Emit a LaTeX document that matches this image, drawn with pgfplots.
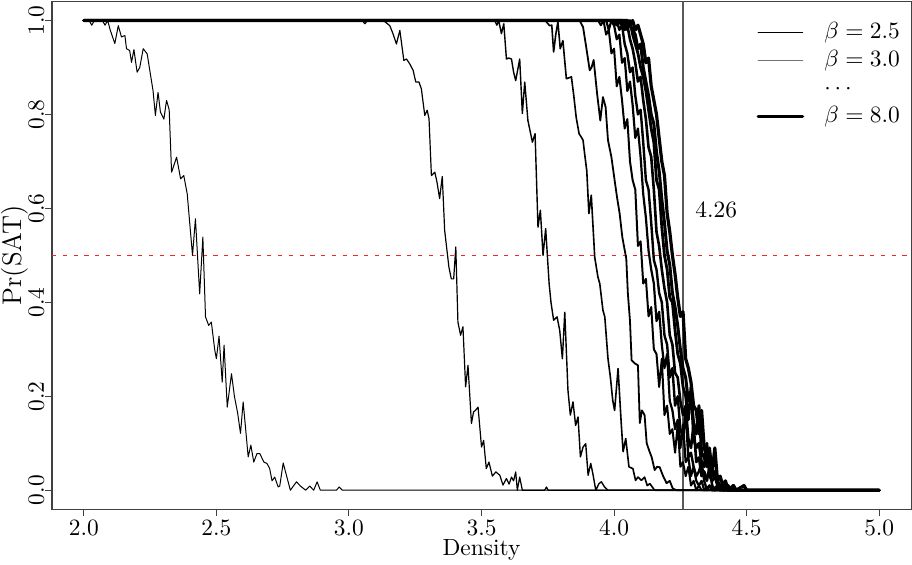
\documentclass[border=0pt]{standalone}
\usepackage{pgfplots}
\pgfplotsset{compat=1.18}
\begin{document}
\begin{tikzpicture}
\begin{axis}[
  scale only axis,
  width=367.1pt, height=216.8pt,
  at={(0,0)}, anchor=south west,
  xmin=1.88, xmax=5.12, ymin=-0.04, ymax=1.04,
  xtick={2,2.5,3,3.5,4,4.5,5},
  xticklabels={2.0,2.5,3.0,3.5,4.0,4.5,5.0},
  ytick={0,0.2,0.4,0.6,0.8,1},
  yticklabels={0.0,0.2,0.4,0.6,0.8,1.0},
  xtick pos=bottom, ytick pos=left,
  tick align=outside, major tick length=3pt,
  tick style={black!75, line width=0.45pt},
  axis line style={black!75, line width=0.45pt},
  xticklabel style={inner sep=1.5pt},
  yticklabel style={rotate=90, anchor=south, inner sep=0pt},
  xlabel={Density},
  ylabel={\fontsize{11.5}{13}\selectfont Pr(SAT)},
  xlabel style={at={(axis description cs:0.5,0)}, anchor=center, yshift=-17.5pt},
  ylabel style={at={(axis description cs:0,0.5)}, anchor=center, yshift=16pt},
  legend cell align=left,
  legend style={draw=none, fill=none, inner sep=0pt, column sep=4.3pt,
    at={(axis description cs:0.8197,0.968)}, anchor=north west,
    nodes={text height=7pt, text depth=2pt, inner ysep=1.5pt, inner xsep=4.25pt}},
  legend image code/.code={\draw[#1] (0pt,0pt) -- (19pt,0pt);},
  clip=true
]

% reference lines
\addplot[color={rgb,255:red,240;green,40;blue,30}, line width=0.7pt, line cap=butt,
  dash pattern=on 1.8pt off 2.8pt, forget plot]
  coordinates {(1.88,0.5) (5.12,0.5)};
\addplot[black!65, line width=0.45pt, forget plot]
  coordinates {(4.26,-0.04) (4.26,1.04)};

\pgfplotsset{every axis plot/.append style={line join=round, line cap=round}}

% beta = 2.5
\addplot[black, line width=0.427pt, forget plot] coordinates {
(2.00,1)(2.02,1)(2.03,0.99)(2.04,1)(2.07,1)(2.08,0.99)(2.09,1)(2.10,0.979)
(2.117,0.951)(2.13,0.989)(2.142,0.965)(2.155,0.968)(2.161,0.94)(2.173,0.936)
(2.18,0.911)(2.189,0.938)(2.201,0.89)(2.211,0.9)(2.224,0.94)(2.239,0.929)
(2.255,0.872)(2.261,0.851)(2.27,0.798)(2.28,0.847)(2.289,0.805)(2.302,0.79)
(2.312,0.83)(2.322,0.81)(2.331,0.677)(2.35,0.709)(2.365,0.663)(2.377,0.67)
(2.39,0.631)(2.41,0.50)(2.421,0.578)(2.437,0.418)(2.449,0.539)(2.459,0.369)
(2.471,0.351)(2.481,0.358)(2.494,0.298)(2.50,0.28)(2.51,0.328)(2.522,0.23)
(2.529,0.309)(2.541,0.177)(2.557,0.248)(2.568,0.2)(2.58,0.165)(2.591,0.121)
(2.601,0.188)(2.62,0.071)(2.63,0.096)(2.641,0.06)(2.653,0.078)(2.664,0.078)
(2.679,0.06)(2.691,0.057)(2.701,0.046)(2.71,0.02)(2.72,0.028)(2.733,0.007)
(2.739,0.009)(2.752,0.058)(2.779,0)(2.802,0.018)(2.817,0.009)(2.837,0)
(2.852,0.009)(2.867,0)(2.88,0.018)(2.892,0)(2.953,0)(2.963,0.007)(2.975,0)
(5.00,0)};

% beta = 3.0
\addplot[black, line width=0.513pt, forget plot] coordinates {
(2.00,1)(3.05,1)(3.06,0.993)(3.07,1)(3.13,1)(3.154,0.989)(3.166,0.972)
(3.179,0.95)(3.192,0.979)(3.207,0.915)(3.217,0.918)(3.229,0.908)(3.242,0.894)
(3.252,0.869)(3.264,0.869)(3.273,0.855)(3.286,0.798)(3.295,0.809)(3.302,0.791)
(3.311,0.67)(3.324,0.677)(3.332,0.656)(3.342,0.621)(3.352,0.668)(3.361,0.553)
(3.377,0.475)(3.386,0.45)(3.395,0.45)(3.403,0.518)(3.411,0.358)(3.421,0.33)
(3.43,0.348)(3.44,0.22)(3.449,0.266)(3.462,0.142)(3.47,0.167)(3.477,0.17)
(3.487,0.177)(3.50,0.092)(3.508,0.106)(3.518,0.046)(3.528,0.06)(3.541,0.03)
(3.554,0.039)(3.569,0.032)(3.581,0.011)(3.594,0.025)(3.604,0.013)(3.613,0.028)
(3.621,0.02)(3.629,0.039)(3.635,0)(3.644,0.028)(3.654,0)(3.738,0)(3.745,0.007)
(3.751,0)(5.00,0)};

% beta = 3.5
\addplot[black, line width=0.598pt, forget plot] coordinates {
(2.00,1)(3.55,1)(3.558,0.99)(3.565,1)(3.575,0.972)(3.584,0.993)(3.594,0.918)
(3.603,0.92)(3.613,0.918)(3.621,0.89)(3.629,0.872)(3.644,0.918)(3.654,0.802)
(3.663,0.869)(3.675,0.787)(3.692,0.741)(3.702,0.759)(3.713,0.56)(3.722,0.596)
(3.732,0.5)(3.742,0.557)(3.755,0.44)(3.762,0.40)(3.772,0.362)(3.785,0.369)
(3.795,0.34)(3.805,0.28)(3.814,0.379)(3.826,0.213)(3.835,0.16)(3.845,0.188)
(3.855,0.138)(3.864,0.156)(3.873,0.071)(3.883,0.092)(3.893,0.099)(3.902,0.032)
(3.912,0.057)(3.92,0.035)(3.931,0)(3.943,0.014)(3.952,0.018)(3.964,0.007)
(3.977,0)(5.00,0)};

% beta = 4.0
\addplot[black, line width=0.684pt, forget plot] coordinates {
(2.00,1)(3.74,1)(3.757,0.989)(3.765,0.99)(3.772,0.933)(3.78,0.97)(3.788,0.997)
(3.797,0.94)(3.807,0.957)(3.82,0.876)(3.83,0.878)(3.839,0.88)(3.848,0.84)
(3.857,0.794)(3.868,0.759)(3.876,0.752)(3.883,0.745)(3.889,0.716)(3.897,0.68)
(3.905,0.589)(3.914,0.628)(3.927,0.496)(3.939,0.454)(3.946,0.44)(3.958,0.383)
(3.965,0.369)(3.977,0.28)(3.986,0.241)(3.995,0.191)(4.002,0.17)(4.015,0.259)
(4.027,0.142)(4.034,0.082)(4.044,0.11)(4.056,0.05)(4.063,0.048)(4.071,0.046)
(4.081,0.021)(4.09,0.028)(4.103,0.021)(4.115,0.028)(4.125,0.01)(4.135,0.014)
(4.153,0)(5.00,0)};

% beta = 4.5
\addplot[black, line width=0.769pt, forget plot] coordinates {
(2.00,1)(3.87,1)(3.883,0.986)(3.895,0.943)(3.908,0.894)(3.915,0.90)(3.923,0.916)
(3.936,0.844)(3.948,0.787)(3.958,0.837)(3.968,0.816)(3.977,0.745)(3.99,0.709)
(4.002,0.66)(4.011,0.624)(4.021,0.589)(4.031,0.539)(4.046,0.493)(4.052,0.419)
(4.06,0.36)(4.066,0.277)(4.078,0.27)(4.09,0.266)(4.097,0.143)(4.105,0.17)
(4.115,0.16)(4.123,0.1)(4.132,0.085)(4.142,0.07)(4.153,0.043)(4.162,0.05)
(4.172,0.049)(4.185,0.03)(4.198,0.015)(4.21,0.02)(4.221,0.004)(4.235,0)
(5.00,0)};

% beta = 5.0
\addplot[black, line width=0.855pt, forget plot] coordinates {
(2.00,1)(3.94,1)(3.95,0.99)(3.96,1)(3.97,0.97)(3.98,0.98)(3.99,0.93)(4.00,0.94)
(4.01,0.86)(4.02,0.88)(4.03,0.83)(4.04,0.77)(4.05,0.79)(4.06,0.70)(4.07,0.66)
(4.08,0.64)(4.09,0.52)(4.10,0.53)(4.11,0.44)(4.12,0.45)(4.13,0.37)(4.14,0.39)
(4.15,0.30)(4.16,0.29)(4.17,0.22)(4.18,0.28)(4.19,0.16)(4.20,0.18)(4.21,0.12)
(4.22,0.13)(4.23,0.08)(4.24,0.14)(4.25,0.05)(4.26,0.06)(4.27,0.03)(4.28,0.05)
(4.29,0.01)(4.30,0.02)(4.31,0)(4.32,0.01)(4.33,0)(5.00,0)};

% beta = 5.5
\addplot[black, line width=0.940pt, forget plot] coordinates {
(2.00,1)(3.97,1)(3.98,0.98)(3.99,1)(4.00,0.99)(4.01,0.96)(4.02,0.97)(4.03,0.91)
(4.04,0.92)(4.05,0.85)(4.06,0.87)(4.07,0.82)(4.08,0.75)(4.09,0.77)(4.10,0.71)
(4.11,0.63)(4.12,0.58)(4.13,0.51)(4.14,0.47)(4.15,0.44)(4.16,0.36)(4.17,0.38)
(4.18,0.31)(4.19,0.26)(4.20,0.29)(4.21,0.19)(4.22,0.17)(4.23,0.13)(4.24,0.15)
(4.25,0.09)(4.26,0.14)(4.27,0.06)(4.28,0.07)(4.29,0.03)(4.30,0.05)(4.31,0.02)
(4.32,0.01)(4.33,0.02)(4.34,0)(4.36,0.01)(4.37,0)(5.00,0)};

% beta = 6.0
\addplot[black, line width=1.026pt, forget plot] coordinates {
(2.00,1)(3.99,1)(4.00,0.99)(4.01,1)(4.02,0.98)(4.03,0.99)(4.04,0.95)(4.05,0.93)
(4.06,0.89)(4.07,0.90)(4.08,0.84)(4.09,0.80)(4.10,0.81)(4.11,0.74)(4.12,0.66)
(4.13,0.64)(4.14,0.57)(4.15,0.49)(4.16,0.47)(4.17,0.42)(4.18,0.40)(4.19,0.33)
(4.20,0.31)(4.21,0.24)(4.22,0.26)(4.23,0.18)(4.24,0.20)(4.25,0.13)(4.26,0.11)
(4.27,0.17)(4.28,0.07)(4.29,0.08)(4.30,0.05)(4.31,0.03)(4.32,0.04)(4.33,0.06)
(4.34,0.02)(4.35,0)(4.36,0.01)(4.37,0)(4.39,0.01)(4.40,0)(5.00,0)};

% beta = 6.5
\addplot[black, line width=1.111pt, forget plot] coordinates {
(2.00,1)(4.00,1)(4.01,0.99)(4.03,1)(4.04,0.98)(4.05,0.99)(4.06,0.96)(4.07,0.94)
(4.08,0.91)(4.09,0.87)(4.10,0.88)(4.11,0.83)(4.12,0.79)(4.13,0.73)(4.14,0.71)
(4.15,0.64)(4.16,0.55)(4.17,0.52)(4.18,0.47)(4.19,0.43)(4.20,0.40)(4.21,0.33)
(4.22,0.31)(4.23,0.25)(4.24,0.24)(4.25,0.19)(4.26,0.16)(4.27,0.18)(4.28,0.11)
(4.29,0.09)(4.30,0.14)(4.31,0.06)(4.32,0.07)(4.33,0.03)(4.34,0.04)(4.35,0.02)
(4.36,0.05)(4.37,0.01)(4.38,0)(4.40,0.01)(4.41,0)(5.00,0)};

% beta = 7.0
\addplot[black, line width=1.197pt, forget plot] coordinates {
(2.00,1)(4.02,1)(4.03,0.99)(4.04,1)(4.05,0.98)(4.06,1)(4.07,0.97)(4.08,0.95)
(4.09,0.93)(4.10,0.90)(4.11,0.88)(4.12,0.85)(4.13,0.81)(4.14,0.77)(4.15,0.74)
(4.16,0.66)(4.17,0.64)(4.18,0.56)(4.19,0.50)(4.20,0.47)(4.21,0.41)(4.22,0.40)
(4.23,0.34)(4.24,0.29)(4.25,0.27)(4.26,0.22)(4.27,0.20)(4.28,0.15)(4.29,0.22)
(4.30,0.11)(4.31,0.09)(4.32,0.10)(4.33,0.06)(4.34,0.05)(4.35,0.10)(4.36,0.03)
(4.37,0.02)(4.38,0.03)(4.39,0.01)(4.40,0)(4.42,0.01)(4.43,0)(5.00,0)};

% beta = 7.5
\addplot[black, line width=1.282pt, forget plot] coordinates {
(2.00,1)(4.03,1)(4.04,0.99)(4.05,1)(4.06,0.99)(4.07,0.98)(4.08,0.97)(4.09,0.94)
(4.10,0.95)(4.11,0.90)(4.12,0.87)(4.13,0.84)(4.14,0.80)(4.15,0.78)(4.16,0.72)
(4.17,0.68)(4.18,0.62)(4.19,0.57)(4.20,0.51)(4.21,0.48)(4.22,0.42)(4.23,0.39)
(4.24,0.35)(4.25,0.30)(4.26,0.26)(4.27,0.24)(4.28,0.19)(4.29,0.21)(4.30,0.14)
(4.31,0.12)(4.32,0.18)(4.33,0.08)(4.34,0.07)(4.35,0.05)(4.36,0.09)(4.37,0.03)
(4.38,0.04)(4.39,0.02)(4.40,0.01)(4.41,0)(4.43,0.01)(4.44,0)(4.45,0.01)
(4.46,0)(5.00,0)};

% beta = 8.0
\addplot[black, line width=1.368pt, forget plot] coordinates {
(2.00,1)(4.05,1)(4.06,0.99)(4.07,1)(4.08,0.98)(4.09,0.99)(4.10,0.97)(4.11,0.95)
(4.12,0.91)(4.13,0.92)(4.14,0.86)(4.15,0.83)(4.16,0.80)(4.17,0.75)(4.18,0.70)
(4.19,0.67)(4.20,0.59)(4.21,0.55)(4.22,0.50)(4.23,0.46)(4.24,0.41)(4.25,0.37)
(4.26,0.38)(4.27,0.28)(4.28,0.26)(4.29,0.23)(4.30,0.18)(4.31,0.17)(4.32,0.12)
(4.33,0.17)(4.34,0.09)(4.35,0.07)(4.36,0.08)(4.37,0.04)(4.38,0.09)(4.39,0.02)
(4.40,0.03)(4.41,0.01)(4.42,0.02)(4.43,0)(4.45,0.01)(4.46,0)(4.49,0.01)
(4.50,0)(5.00,0)};

% legend
\addlegendimage{black, line width=0.427pt}
\addlegendentry{$\beta = 2.5$}
\addlegendimage{black!55, line width=0.513pt}
\addlegendentry{$\beta = 3.0$}
\addlegendimage{empty legend}
\addlegendentry{$\cdots$}
\addlegendimage{black, line width=1.368pt}
\addlegendentry{$\beta = 8.0$}

\node[anchor=west, inner sep=0pt] at (axis cs:4.305,0.596) {4.26};

\end{axis}
\pgfresetboundingbox
\path[use as bounding box] (-22.22pt,-23.5pt) rectangle (367.52pt,217.53pt);
\end{tikzpicture}
\end{document}
